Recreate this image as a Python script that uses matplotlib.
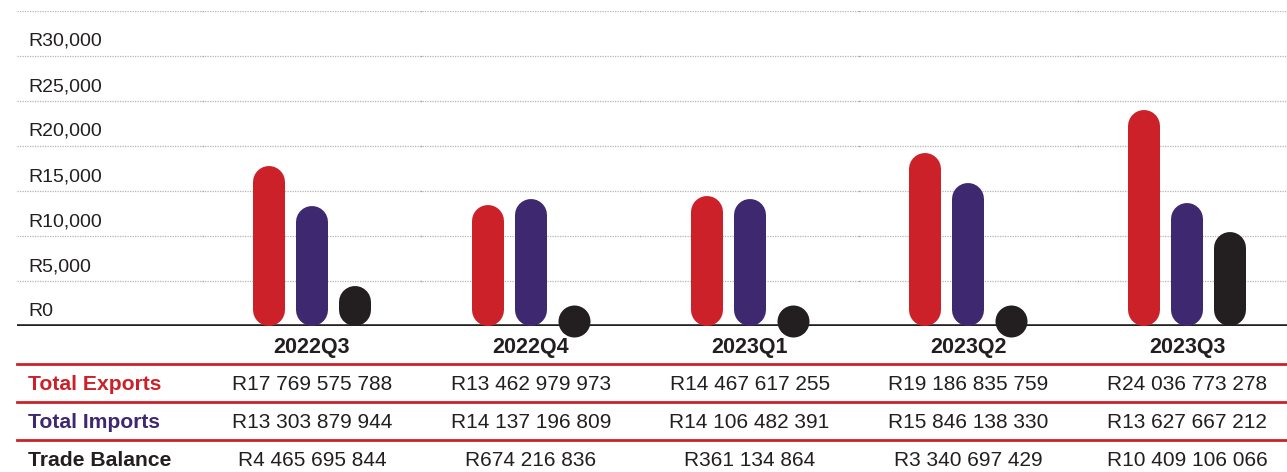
import matplotlib
matplotlib.use("Agg")
import matplotlib.pyplot as plt
from matplotlib.lines import Line2D
from matplotlib import transforms

plt.rcParams["font.family"] = ["Liberation Sans", "DejaVu Sans"]

# Quarterly trade figures (rand)
quarters = ["2022Q3", "2022Q4", "2023Q1", "2023Q2", "2023Q3"]
exports = [17769575788, 13462979973, 14467617255, 19186835759, 24036773278]
imports = [13303879944, 14137196809, 14106482391, 15846138330, 13627667212]
balance = [4465695844, 674216836, 361134864, 3340697429, 10409106066]

y_ticks = [0, 5000, 10000, 15000, 20000, 25000, 30000, 35000]
row_names = ["Total Exports", "Total Imports", "Trade Balance"]

RED = "#cc2129"
PURPLE = "#3e2870"
DARK = "#231f20"
GRID = "#b5b5b5"

W, H = 1287, 472
fig = plt.figure(figsize=(W / 100, H / 100), dpi=100)

# plot area in pixels (from top-left)
left_px, right_px = 17, 1287
top_px, base_px = 11, 326
ax = fig.add_axes([left_px / W, 1 - base_px / H,
                   (right_px - left_px) / W, (base_px - top_px) / H])

group_step_px = 218.8
first_center_px = 312
x_min = (left_px - first_center_px) / group_step_px
x_max = (right_px - first_center_px) / group_step_px
ax.set_xlim(x_min, x_max)
ax.set_ylim(0, 35000)
ax.axis("off")

units_per_px = 35000 / (base_px - top_px)
bar_px = 32
bar_pt = bar_px * 72 / 100
R = bar_px / 2 * units_per_px          # cap radius in data units
dot_level = 5 * units_per_px           # resting height of short bars
offset = 43 / group_step_px            # spacing between bars in a group

# gridlines and labels
for t in y_ticks:
    if t == 0:
        ax.axhline(0, color=DARK, lw=2.6, zorder=2, solid_capstyle="butt")
    else:
        ax.axhline(t, color=GRID, lw=0.9, ls=(0, (1, 1)), zorder=1)
    if t <= 30000:
        ax.annotate(f"R{t:,}", xy=(x_min, t), xycoords="data",
                    xytext=(11, 6), textcoords="offset pixels",
                    ha="left", va="bottom", fontsize=14, color=DARK)

# faint markers at the category boundaries
for i in range(len(quarters)):
    xb = i - 0.5
    for t in y_ticks[1:]:
        ax.plot([xb], [t], marker="s", ms=0.9, mew=0, color="#a0a0a0",
                zorder=1.5)


def draw_bar(x, v, color):
    v = v / 1e6
    if v >= 2 * R:
        ax.add_line(Line2D([x, x], [R, v - R], color=color, lw=bar_pt,
                           solid_capstyle="round", zorder=3, clip_on=False))
    else:
        ax.plot([x], [dot_level], marker="o", ms=bar_pt, mew=0,
                color=color, zorder=3, clip_on=False)


for i in range(len(quarters)):
    draw_bar(i - offset, exports[i], RED)
    draw_bar(i, imports[i], PURPLE)
    draw_bar(i + offset, balance[i], DARK)

# table beneath the chart
tr = transforms.blended_transform_factory(ax.transData, fig.transFigure)


def fy(ypx):
    return 1 - ypx / H


for i, q in enumerate(quarters):
    fig.text(i, fy(348), q, transform=tr, ha="center", va="center",
             fontsize=15.5, fontweight="bold", color=DARK)

for ypx in (364, 402, 440):
    fig.add_artist(Line2D([left_px / W, 1], [fy(ypx), fy(ypx)],
                          transform=fig.transFigure, color=RED, lw=2.0))


def fmt(v):
    return "R" + f"{v:,}".replace(",", " ")


rows = [exports, imports, balance]
row_colors = [RED, PURPLE, DARK]
row_y = [384, 422, 460]
for name, vals, col, ypx in zip(row_names, rows, row_colors, row_y):
    fig.text(28 / W, fy(ypx), name, ha="left", va="center",
             fontsize=15.2, fontweight="bold", color=col)
    for i, v in enumerate(vals):
        fig.text(i, fy(ypx), fmt(v), transform=tr, ha="center",
                 va="center", fontsize=15, color=DARK)

fig.savefig("out.png", dpi=100, facecolor="white")
